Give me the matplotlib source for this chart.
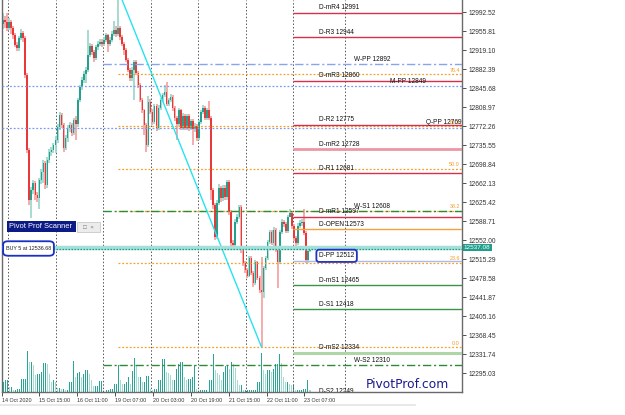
import numpy as np
import matplotlib
matplotlib.use("Agg")
import matplotlib.pyplot as plt
import matplotlib.transforms as mtransforms
from matplotlib.lines import Line2D
from matplotlib.patches import Rectangle, FancyBboxPatch

plt.rcParams['font.family'] = ['Liberation Sans', 'DejaVu Sans']

# ---------------- data ----------------
first_open = 12970
close = [12977, 12973, 12962, 12973, 12962, 12948, 12929, 12923, 12942, 12952,
         12942, 12871, 12726, 12630, 12649, 12662, 12639, 12633, 12668, 12684,
         12701, 12658, 12707, 12722, 12726, 12735, 12745, 12771, 12794, 12774,
         12730, 12749, 12769, 12774, 12759, 12784, 12776, 12822, 12848, 12861,
         12872, 12881, 12910, 12927, 12916, 12904, 12925, 12931, 12935, 12931,
         12939, 12948, 12931, 12939, 12950, 12958, 12950, 12962, 12944, 12931,
         12919, 12900, 12881, 12865, 12881, 12896, 12875, 12852, 12822, 12803,
         12774, 12736, 12819, 12800, 12780, 12811, 12769, 12807, 12822, 12832,
         12838, 12815, 12822, 12829, 12807, 12788, 12776, 12803, 12769, 12792,
         12769, 12792, 12769, 12782, 12767, 12773, 12749, 12780, 12800, 12807,
         12788, 12803, 12788, 12649, 12620, 12558, 12624, 12653, 12633, 12653,
         12635, 12664, 12606, 12547, 12543, 12587, 12597, 12616, 12533, 12508,
         12494, 12483, 12518, 12489, 12469, 12510, 12479, 12456, 12452, 12498,
         12518, 12548, 12568, 12547, 12572, 12533, 12510, 12568, 12587, 12583,
         12570, 12597, 12604, 12579, 12556, 12547, 12579, 12585, 12587, 12566,
         12514, 12531, 12537]
high = [12991, 12985, 12991, 12980, 12978, 12966, 12952, 12935, 12946, 12960,
        12956, 12946, 12875, 12730, 12655, 12668, 12666, 12645, 12672, 12690,
        12707, 12705, 12712, 12728, 12732, 12740, 12752, 12776, 12800, 12798,
        12778, 12755, 12774, 12780, 12778, 12788, 12792, 12826, 12852, 12866,
        12878, 12886, 12958, 12932, 12930, 12920, 12929, 12936, 12940, 12940,
        12944, 12952, 12950, 12944, 12955, 12975, 12965, 13035, 12966, 12948,
        12935, 12922, 12904, 12885, 12886, 12900, 12900, 12878, 12855, 12826,
        12806, 12778, 12830, 12824, 12805, 12815, 12814, 12812, 12826, 12836,
        12852, 12858, 12826, 12834, 12832, 12810, 12792, 12808, 12806, 12797,
        12796, 12796, 12796, 12786, 12786, 12778, 12776, 12784, 12804, 12812,
        12810, 12808, 12820, 12792, 12652, 12624, 12630, 12660, 12656, 12658,
        12658, 12668, 12668, 12610, 12552, 12592, 12602, 12620, 12620, 12536,
        12512, 12498, 12522, 12522, 12492, 12514, 12512, 12482, 12519, 12502,
        12522, 12552, 12572, 12572, 12578, 12576, 12538, 12572, 12592, 12590,
        12586, 12601, 12612, 12607, 12582, 12560, 12584, 12590, 12593, 12612,
        12570, 12540, 12541]
low = [12960, 12962, 12955, 12958, 12950, 12940, 12925, 12918, 12918, 12938,
       12935, 12865, 12720, 12620, 12595, 12640, 12630, 12625, 12612, 12660,
       12662, 12650, 12652, 12700, 12715, 12720, 12720, 12740, 12765, 12768,
       12722, 12725, 12742, 12760, 12752, 12755, 12745, 12770, 12818, 12842,
       12856, 12855, 12876, 12905, 12910, 12895, 12900, 12920, 12926, 12925,
       12927, 12935, 12915, 12926, 12935, 12946, 12945, 12946, 12938, 12926,
       12910, 12895, 12876, 12860, 12860, 12822, 12870, 12846, 12818, 12798,
       12755, 12722, 12732, 12795, 12775, 12776, 12762, 12765, 12803, 12818,
       12828, 12810, 12810, 12818, 12802, 12782, 12745, 12772, 12764, 12765,
       12764, 12765, 12762, 12765, 12736, 12760, 12744, 12745, 12776, 12796,
       12784, 12784, 12784, 12630, 12612, 12552, 12554, 12620, 12626, 12628,
       12630, 12630, 12600, 12540, 12536, 12540, 12582, 12592, 12527, 12502,
       12488, 12478, 12480, 12484, 12462, 12465, 12474, 12450, 12345, 12440,
       12494, 12514, 12544, 12542, 12540, 12528, 12460, 12506, 12564, 12578,
       12566, 12566, 12598, 12574, 12550, 12540, 12542, 12575, 12580, 12562,
       12508, 12508, 12528]
tick_volume = [10, 12, 12, 5, 5, 2, 2, 3, 3, 13,
               13, 13, 41, 30, 30, 27, 17, 18, 18, 20,
               29, 29, 28, 18, 10, 12, 10, 4, 4, 3,
               3, 2, 2, 10, 10, 31, 15, 19, 20, 15,
               18, 22, 22, 18, 12, 6, 6, 6, 11, 11,
               2, 2, 2, 3, 3, 8, 8, 27, 12, 8,
               8, 10, 15, 8, 21, 34, 26, 15, 15, 10,
               10, 16, 16, 3, 2, 3, 3, 12, 12, 33,
               33, 20, 19, 17, 12, 12, 23, 28, 30, 30,
               15, 12, 13, 13, 15, 27, 3, 2, 2, 2,
               2, 2, 12, 12, 38, 22, 19, 17, 12, 20,
               26, 26, 23, 30, 28, 24, 12, 7, 7, 2,
               2, 2, 2, 2, 2, 2, 10, 10, 39, 22,
               18, 22, 22, 20, 23, 28, 28, 38, 29, 15,
               10, 10, 8, 7, 7, 2, 2, 2, 2, 3,
               3, 12, 2]

time_labels = ["14 Oct 2020", "15 Oct 15:00", "16 Oct 11:00", "19 Oct 07:00",
               "20 Oct 03:00", "20 Oct 19:00", "21 Oct 15:00", "22 Oct 11:00",
               "23 Oct 07:00"]
price_ticks = [12295.03, 12331.74, 12368.45, 12405.16, 12441.87, 12478.58,
               12515.29, 12552.00, 12588.71, 12625.42, 12662.13, 12698.84,
               12735.55, 12772.26, 12808.97, 12845.68, 12882.39, 12919.10,
               12955.81, 12992.52]

daily_names = ["D-mR4", "D-R3", "D-mR3", "D-R2", "D-mR2", "D-R1", "D-mR1",
               "D-OPEN", "D-PP", "D-mS1", "D-S1", "D-mS2", "D-S2"]
daily_values = [12991, 12944, 12860, 12775, 12728, 12681, 12597,
                12573, 12512, 12465, 12418, 12334, 12249]
weekly_names = ["W-PP", "W-S1", "W-S2"]
weekly_values = [12892, 12608, 12310]
mq_names = ["M-PP", "Q-PP"]
mq_values = [12849, 12769]
fib_ratios = [0.0, 23.6, 38.2, 50.0, 61.8, 76.4]
current_bid = 12537.08
buy_lots = 5
buy_price = 12536.68

# ---------------- layout helpers ----------------
W, H = 625, 415
AX_L, AX_R, AX_T, AX_B = 2, 462, 0, 392
fig = plt.figure(figsize=(W / 100, H / 100), dpi=100)
fig.patch.set_facecolor('white')
ax = fig.add_axes([AX_L / W, 1 - AX_B / H, (AX_R - AX_L) / W, (AX_B - AX_T) / H])

n = len(close)
FIRST_PX, LAST_PX = 3, 310
s = (LAST_PX - FIRST_PX) / (n - 1)


def bx(px):
    return (px - FIRST_PX) / s


def frac(px):
    return (px - AX_L) / (AX_R - AX_L)


def fx(px):
    return px / W


def fy(py):
    return 1 - py / H


pp = (12992.52 - 12295.03) / (373 - 12)
ax.set_xlim(bx(AX_L), bx(AX_R))
ax.set_ylim(12295.03 - (AX_B - 373) * pp, 12992.52 + 12 * pp)
ax.patch.set_visible(False)

# volume on twin axis (behind)
axv = ax.twinx()
axv.set_zorder(0)
ax.set_zorder(1)
axv.set_ylim(0, max(tick_volume) * 9.6)
vcol = ['#2aa593' if (i == 0 or tick_volume[i] >= tick_volume[i - 1]) else '#a3dbd2'
        for i in range(n)]
axv.bar(np.arange(n), tick_volume, width=0.5, color=vcol, linewidth=0)
axv.set_yticks([])
for sp in axv.spines.values():
    sp.set_visible(False)
axv.tick_params(right=False, labelright=False)

x = np.arange(n)
opens = np.array([first_open] + close[:-1], dtype=float)
c = np.array(close, dtype=float)
hi = np.array(high, dtype=float)
lo = np.array(low, dtype=float)
up = c >= opens

# period separators
sep_px = [8, 56, 103, 151, 198, 246, 293, 345]
for p in sep_px:
    ax.axvline(bx(p), color='#555555', lw=0.7, ls=(0, (1.5, 2)), zorder=1)

# candles
wick_col = np.where(up, '#9fd9cf', '#f4a5a5')
body_col = np.where(up, '#23a08e', '#e83838')
ax.vlines(x, lo, hi, colors=wick_col, lw=1.3, zorder=2)
body_h = np.maximum(np.abs(c - opens), 2.5)
ax.bar(x, body_h, bottom=np.minimum(c, opens), width=0.8, color=body_col,
       linewidth=0, zorder=2.5)

xr = bx(AX_R)
trans_lab = mtransforms.blended_transform_factory(ax.transAxes, ax.transData)
off = mtransforms.ScaledTranslation(0, 1.0 / 72, fig.dpi_scale_trans)
LAB_FS = 4.7
LAB_COL = '#111111'

# fibonacci retracement
ih = int(np.argmax(hi))
il = int(np.argmin(lo))
fib_high, fib_low = hi[ih], lo[il]
for r in fib_ratios:
    lvl = fib_low + (fib_high - fib_low) * r / 100.0
    ax.hlines(lvl, ih, xr, colors='#f7a02a', lw=0.9, ls=(0, (1.5, 1.5)), zorder=3)
    ax.text(frac(460), lvl, f"{r:.1f}", transform=trans_lab + off, ha='right',
            va='bottom', fontsize=3.9, color='#f59a23', zorder=5, clip_on=True)
ax.plot([ih, il], [fib_high, fib_low], color='#27e3ef', lw=1.0, zorder=3.5)

# monthly / quarterly pivots (whole width)
mq_px = [390, 426]
for name, val, lp in zip(mq_names, mq_values, mq_px):
    ax.hlines(val, bx(AX_L), xr, colors='#7f9cf0', lw=0.9, ls=(0, (1.5, 1.5)), zorder=3)
    ax.text(frac(lp), val, f"{name} {val}", transform=trans_lab + off, fontsize=LAB_FS,
            va='bottom', ha='left', color=LAB_COL, zorder=5.5, clip_on=True)

# weekly pivots
w_colors = ['#86a4f2', '#2e8a34', '#2e8a34']
for name, val, col in zip(weekly_names, weekly_values, w_colors):
    ax.hlines(val, bx(103), xr, colors=col, lw=1.0, ls=(0, (6, 2, 1.5, 2)), zorder=3)
    ax.text(frac(354), val, f"{name} {val}", transform=trans_lab + off, fontsize=LAB_FS,
            va='bottom', ha='left', color=LAB_COL, zorder=5, clip_on=True)

# daily pivots
d_style = {
    "D-mR4": ('#d8304c', 1.0), "D-R3": ('#d8304c', 1.0), "D-mR3": ('#d8304c', 1.0),
    "D-R2": ('#d8304c', 1.0), "D-mR2": ('#ec97a4', 2.0), "D-R1": ('#d8304c', 1.0),
    "D-mR1": ('#d8304c', 1.0), "D-OPEN": ('#f2a13e', 1.0), "D-PP": ('#a9bbf2', 1.0),
    "D-mS1": ('#3a9448', 1.0), "D-S1": ('#3a9448', 1.0), "D-mS2": ('#aed6a6', 2.2),
    "D-S2": ('#3a9448', 1.0),
}
for name, val in zip(daily_names, daily_values):
    col, lw = d_style[name]
    ax.hlines(val, bx(293), xr, colors=col, lw=lw, zorder=3)
    if name == "D-PP":
        ax.text(frac(319), val, f"{name} {val}", transform=trans_lab + off,
                fontsize=LAB_FS, va='bottom', ha='left', color=LAB_COL, zorder=6,
                clip_on=True,
                bbox=dict(boxstyle='round,pad=0.4,rounding_size=0.4', fc='white',
                          ec='#1d33c6', lw=1.3))
    else:
        ax.text(frac(319), val, f"{name} {val}", transform=trans_lab + off,
                fontsize=LAB_FS, va='bottom', ha='left', color=LAB_COL, zorder=5,
                clip_on=True)

# current price / position line
ax.axhline(current_bid, color='#a6ded8', lw=3.2, zorder=3.8)
ax.axhline(buy_price - 1.5, color='#1e9e8c', lw=0.9, ls=(0, (1.2, 1.2)), zorder=3.9)
ax.text(1.004, current_bid, f"{current_bid:.2f}", transform=trans_lab, ha='left',
        va='center', fontsize=4.6, color='white', clip_on=False, zorder=6,
        bbox=dict(boxstyle='square,pad=0.2', fc='#1f9e8c', ec='none'))

# axes styling
ax.set_yticks(price_ticks)
ax.set_yticklabels([f"{v:.2f}" for v in price_ticks])
ax.yaxis.tick_right()
ax.tick_params(axis='y', which='both', left=False, right=True, labelleft=False,
               labelright=True, length=3, width=0.6, pad=1.5, labelsize=4.8,
               colors='#333333')
tick_px = [2, 39, 77, 115, 153, 191, 229, 267, 304]
ax.set_xticks([bx(p) for p in tick_px])
ax.set_xticklabels(time_labels)
for lbl in ax.get_xticklabels():
    lbl.set_ha('left')
ax.tick_params(axis='x', length=3, width=0.6, pad=1.2, labelsize=3.9, colors='#333333')
for side in ['left', 'right', 'bottom']:
    ax.spines[side].set_color('#6a6a6a')
    ax.spines[side].set_linewidth(1.0)
ax.spines['top'].set_visible(False)

# scanner widget
fig.add_artist(Rectangle((fx(7), fy(232)), 69 / W, 11 / H, transform=fig.transFigure,
                         fc='#0c1a86', ec='none', zorder=10))
fig.text(fx(9), fy(226.5), "Pivot Prof Scanner", color='white', fontsize=5.4,
         va='center', ha='left', zorder=11)
fig.add_artist(Rectangle((fx(77), fy(232)), 23 / W, 10 / H, transform=fig.transFigure,
                         fc='#ececec', ec='#c8c8c8', lw=0.6, zorder=10))
fig.text(fx(88.5), fy(227), "\u25a1  \u00d7", color='#777777', fontsize=4.5,
         va='center', ha='center', zorder=11)
fig.add_artist(FancyBboxPatch((fx(5), fy(254.5)), 47 / W, 12 / H,
                              boxstyle='round,pad=0.003,rounding_size=0.008',
                              transform=fig.transFigure, fc='white', ec='#1a30c4',
                              lw=1.3, zorder=10))
fig.text(fx(28.5), fy(248.5), f"BUY {buy_lots} at {buy_price:.2f}", color='#222222',
         fontsize=3.9, va='center', ha='center', zorder=11)

fig.text(fx(407), fy(384), "PivotProf.com", color='#1b1b8c', fontsize=8.8,
         va='center', ha='center', zorder=11, family='DejaVu Sans')
fig.add_artist(Line2D([0, fx(415)], [fy(405), fy(405)], transform=fig.transFigure,
                      color='#e4e4e4', lw=1.2))

fig.savefig("out.png", dpi=100, facecolor='white')
